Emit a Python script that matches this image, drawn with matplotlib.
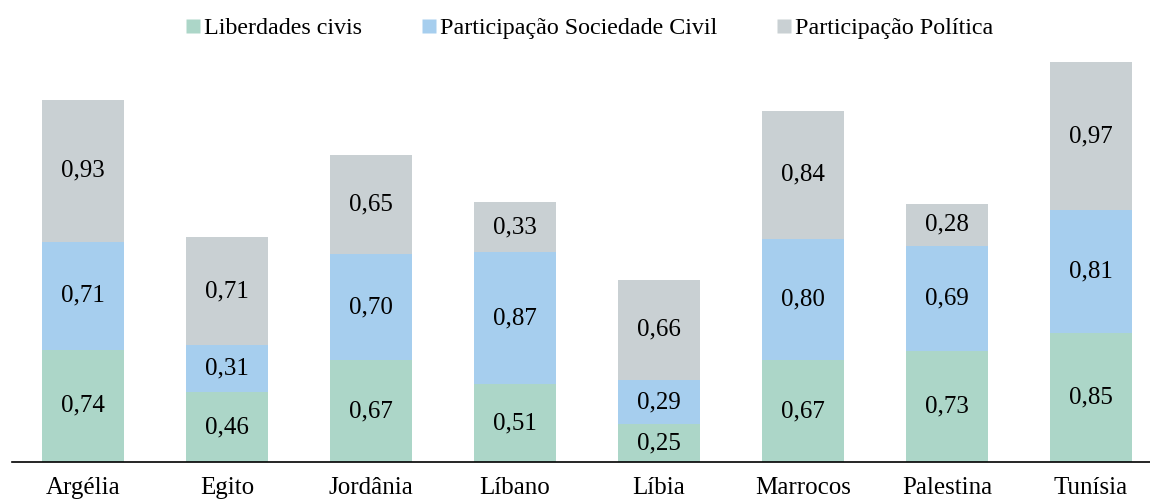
import numpy as np
import matplotlib.pyplot as plt
from matplotlib.lines import Line2D

plt.rcParams['font.family'] = ['Liberation Serif', 'DejaVu Serif']

countries = ['Argélia', 'Egito', 'Jordânia', 'Líbano', 'Líbia', 'Marrocos', 'Palestina', 'Tunísia']
liberdades = [0.74, 0.46, 0.67, 0.51, 0.25, 0.67, 0.73, 0.85]
sociedade = [0.71, 0.31, 0.70, 0.87, 0.29, 0.80, 0.69, 0.81]
politica = [0.93, 0.71, 0.65, 0.33, 0.66, 0.84, 0.28, 0.97]

series = [
    ('Liberdades civis', liberdades, '#acd6c8'),
    ('Participação Sociedade Civil', sociedade, '#a6ceee'),
    ('Participação Política', politica, '#c9d0d3'),
]

fig = plt.figure(figsize=(11.5, 5), dpi=100)
ax = fig.add_axes([12 / 1150, 1 - 462 / 500, 1 - 12 / 1150, (462 - 55) / 500])

x = np.arange(len(countries))
bottom = np.zeros(len(countries))
handles = []
for name, vals, col in series:
    vals = np.array(vals)
    ax.bar(x, vals, 0.57, bottom=bottom, color=col, edgecolor='none')
    for xi, b, v in zip(x, bottom, vals):
        ax.text(xi, b + v / 2, f'{v:.2f}'.replace('.', ','), ha='center', va='center',
                fontsize=18, color='black')
    bottom += vals
    handles.append(Line2D([], [], marker='s', linestyle='none', markersize=10,
                          markerfacecolor=col, markeredgecolor='none', label=name))

ax.set_xlim(-0.493, 7.41)
ax.set_ylim(0, (462 - 55) / 152)
ax.set_xticks(x)
ax.set_xticklabels(countries, fontsize=18)
ax.tick_params(axis='x', length=0, pad=11)
ax.set_yticks([])
for s in ['top', 'right', 'left']:
    ax.spines[s].set_visible(False)
ax.spines['bottom'].set_linewidth(1.2)

fig.legend(handles=handles, loc='center', bbox_to_anchor=(0.512, 1 - 28 / 500), ncol=3,
           frameon=False, fontsize=17.3, handletextpad=0.1, columnspacing=2.45,
           handlelength=0.7)

fig.savefig('out.png', dpi=100)
